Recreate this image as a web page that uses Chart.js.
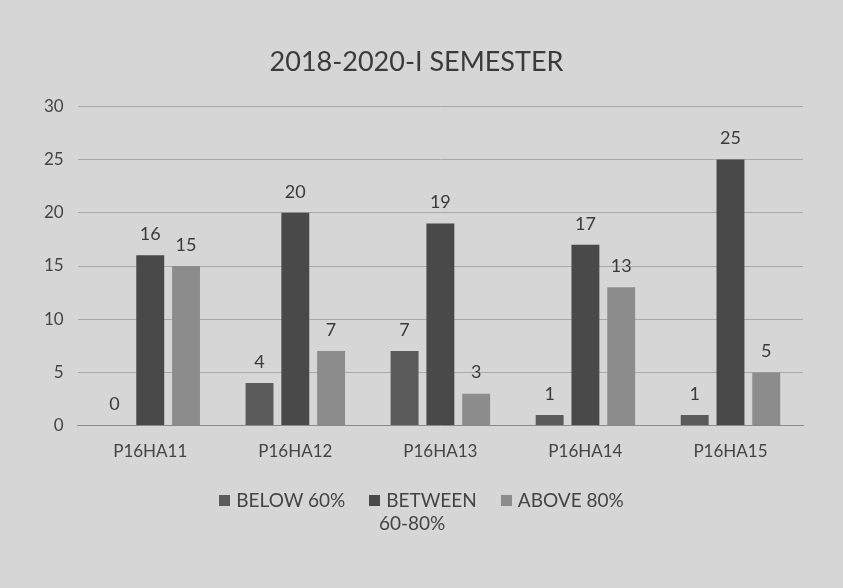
<!DOCTYPE html>
<html>
<head>
<meta charset="utf-8">
<script src="https://cdn.jsdelivr.net/npm/chart.js@4"></script>
<style>
  body { margin: 0; background: #d6d6d6; font-family: Lato, sans-serif; }
  #wrap { position: relative; width: 843px; height: 588px; }
  #legend { position: absolute; left: 0; top: 488px; width: 843px; text-align: center; color: #444; font-size: 19px; }
  .item { display: inline-block; vertical-align: top; margin: 0 12px; text-align: left; }
  .box { display: inline-block; width: 11px; height: 11px; margin-right: 6px; vertical-align: 1px; }
</style>
</head>
<body>
<div id="wrap">
  <canvas id="myChart" width="843" height="588"></canvas>
  <div id="legend"></div>
</div>
<script>
var categories = ['P16HA11', 'P16HA12', 'P16HA13', 'P16HA14', 'P16HA15'];
var below60 = [0, 4, 7, 1, 1];
var between6080 = [16, 20, 19, 17, 25];
var above80 = [15, 7, 3, 13, 5];
var seriesNames = ['BELOW 60%', 'BETWEEN 60-80%', 'ABOVE 80%'];
var colors = ['#5b5b5b', '#494949', '#8c8c8c'];

// write values on top of the bars
const valueLabels = {
  id: 'valueLabels',
  afterDatasetsDraw(chart) {
    const ctx = chart.ctx;
    ctx.save();
    ctx.fillStyle = '#3a3a3a';
    ctx.font = '18px Lato';
    ctx.textAlign = 'center';
    ctx.textBaseline = 'bottom';
    chart.data.datasets.forEach(function (ds, i) {
      chart.getDatasetMeta(i).data.forEach(function (bar, j) {
        ctx.fillText(ds.data[j], bar.x, bar.y - 12);
      });
    });
    ctx.restore();
  }
};

const data = {
  labels: categories,
  datasets: [
    { label: seriesNames[0], data: below60, backgroundColor: colors[0] },
    { label: seriesNames[1], data: between6080, backgroundColor: colors[1] },
    { label: seriesNames[2], data: above80, backgroundColor: colors[2] }
  ]
};

const config = {
  type: 'bar',
  data,
  options: {
    responsive: false,
    animation: false,
    categoryPercentage: 0.74,
    barPercentage: 0.78,
    layout: { padding: { left: 30, right: 40, top: 46, bottom: 118 } },
    plugins: {
      legend: { display: false },
      tooltip: { enabled: false },
      title: {
        display: true,
        text: '2018-2020-I SEMESTER',
        color: '#3a3a3a',
        font: { family: 'Lato', size: 27, weight: 'normal' },
        padding: { top: 0, bottom: 28 }
      }
    },
    scales: {
      x: {
        grid: { display: false },
        border: { color: '#8a8a8a' },
        ticks: { color: '#444', font: { family: 'Lato', size: 17 }, padding: 8 }
      },
      y: {
        min: 0,
        max: 30,
        ticks: { stepSize: 5, color: '#444', font: { family: 'Lato', size: 17 }, padding: 14 },
        grid: { color: '#a9a9a9', drawTicks: false },
        border: { display: false }
      }
    }
  },
  plugins: [valueLabels]
};

var myChart = new Chart(document.getElementById('myChart'), config);

// legend, with the middle label wrapped like the original
var legendText = ['BELOW 60%', 'BETWEEN<br>&nbsp;&nbsp;60-80%', 'ABOVE 80%'];
var html = '';
for (let x = 0; x < 3; x++) {
  html += '<span class="item"><span class="box" style="background:' + colors[x] + '"></span>' + legendText[x] + '</span>';
}
document.getElementById('legend').innerHTML = html;
</script>
</body>
</html>
